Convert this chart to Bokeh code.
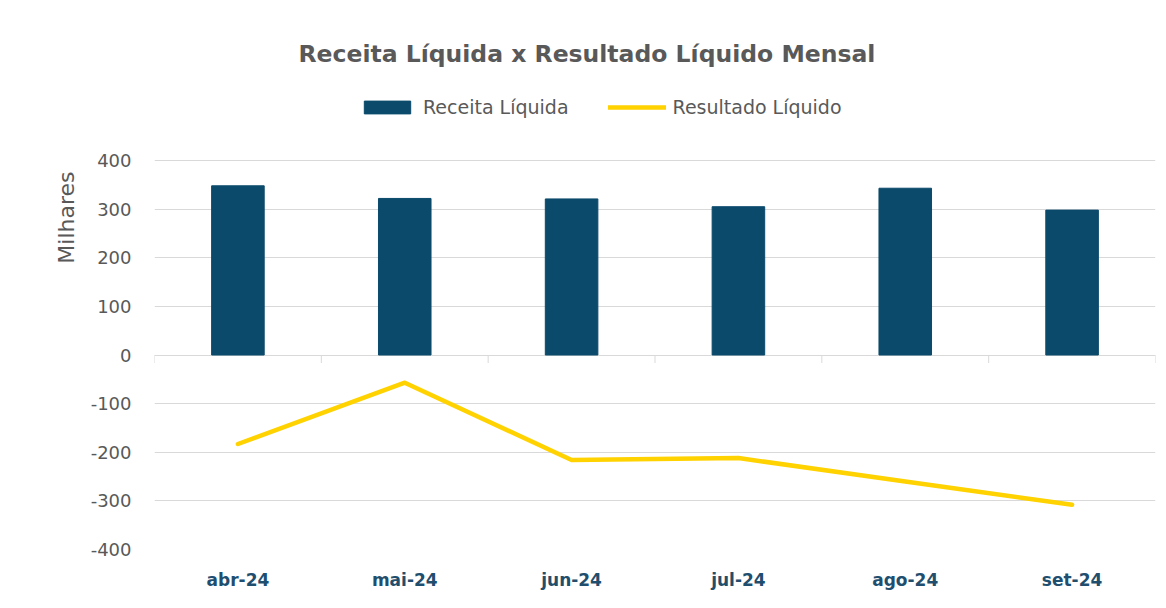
import math
from bokeh.plotting import figure
from bokeh.models import (Range1d, FixedTicker, Title, Legend, LegendItem,
                          PrintfTickFormatter)
from bokeh.embed import file_html
from bokeh.resources import INLINE

# ---- data (milhares) ----
months = ["abr-24", "mai-24", "jun-24", "jul-24", "ago-24", "set-24"]
receita = [348, 322, 321, 305, 343, 298]
resultado = [-183, -57, -216, -212, -260, -308]
y_ticks = [-400, -300, -200, -100, 0, 100, 200, 300, 400]

title_text = "Receita Líquida x Resultado Líquido Mensal"
y_label = "Milhares"

BAR = "#0B4A6B"
LINE = "#FFD200"
GREY_TXT = "#595959"
GRID = "#D9D9D9"
XLAB = "#1F4E6E"
FONT = "DejaVu Sans"

# layout: the frame extends above the top gridline to host the legend
Y_VIEW_TOP = 544

idx = list(range(len(months)))                       # category centres
bounds = [i - 0.5 for i in range(len(months) + 1)]   # category boundaries

p = figure(
    width=1166, height=608,
    x_range=Range1d(bounds[0], bounds[-1]),
    y_range=Range1d(y_ticks[0], Y_VIEW_TOP),
    output_backend="svg", toolbar_location=None,
    min_border_left=154, min_border_right=11,
    min_border_top=90, min_border_bottom=59,
    background_fill_color="white", border_fill_color="white",
    outline_line_color=None,
)

bars = p.vbar(x=idx, top=receita, width=0.315, fill_color=BAR,
              line_color=BAR)
line = p.line(x=idx, y=resultado, line_color=LINE, line_width=4.5,
              line_cap="round", line_join="round")

# category axis line at zero: small ticks at the category boundaries
p.ray(x=bounds, y=[0] * len(bounds), length=8, length_units="screen",
      angle=-math.pi / 2, line_color=GRID, line_width=1)

# x axis (labels only)
xa = p.xaxis[0]
xa.ticker = FixedTicker(ticks=idx)
xa.major_label_overrides = {i: m for i, m in zip(idx, months)}
xa.axis_line_color = None
xa.major_tick_line_color = None
xa.minor_tick_line_color = None
xa.major_tick_out = 0
xa.major_label_standoff = 20
xa.major_label_text_font = FONT
xa.major_label_text_font_style = "bold"
xa.major_label_text_font_size = "17px"
xa.major_label_text_color = XLAB
p.xgrid.grid_line_color = None

# y axis
ya = p.yaxis[0]
ya.ticker = FixedTicker(ticks=y_ticks)
ya.formatter = PrintfTickFormatter(format="%d")
ya.axis_line_color = None
ya.major_tick_line_color = None
ya.minor_tick_line_color = None
ya.major_tick_out = 0
ya.major_label_standoff = 23
ya.major_label_text_font = FONT
ya.major_label_text_font_size = "18px"
ya.major_label_text_color = GREY_TXT
p.ygrid.grid_line_color = GRID
p.ygrid.grid_line_width = 1

# legend
legend = Legend(
    items=[LegendItem(label="Receita Líquida", renderers=[bars]),
           LegendItem(label="Resultado Líquido", renderers=[line])],
    orientation="horizontal", location=(204, 431),
    border_line_color=None, background_fill_alpha=0,
    padding=0, margin=0, spacing=39, label_standoff=7,
    glyph_width=58, glyph_height=16,
    label_text_font=FONT, label_text_font_size="19px",
    label_text_color=GREY_TXT,
)
p.add_layout(legend, "center")

# chart title
p.add_layout(Title(text=title_text, align="left", offset=144, standoff=45,
                   text_font=FONT, text_font_style="bold",
                   text_font_size="23.5px", text_color=GREY_TXT), "above")

# y axis title, placed in the upper half like the reference
p.add_layout(Title(text=y_label, align="right", offset=81, standoff=17,
                   text_font=FONT, text_font_style="normal",
                   text_font_size="22px", text_color=GREY_TXT), "left")

open("out.html", "w").write(file_html(p, INLINE))
